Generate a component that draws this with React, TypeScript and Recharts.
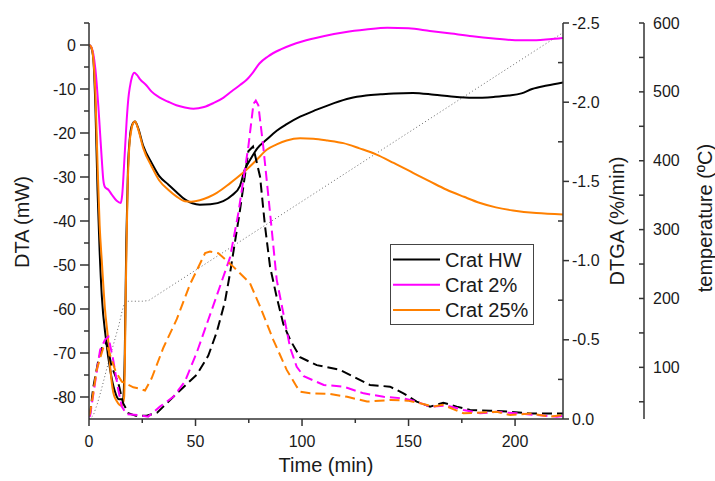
import React from 'react';
import { LineChart, Line, XAxis, YAxis, Legend } from 'recharts';

// ---- DTA (mW), solid lines ----
const hwDtaTime = [0,1,2,3,4,5,6,8,10,12,14,16,16.8,17.5,18.3,19.2,20.2,21.6,23,25.5,29.4,33,37.2,41,45,52,57,63,67,70.9,73,76,79,83.4,88.1,92.8,99.1,106.9,115,122.5,130,137,143,152,162,170,180,190,197,203,208,215,222.5];
const hwDtaValue = [0,-0.5,-3,-14,-33,-47,-57,-67,-74,-78.5,-80.5,-80.5,-70,-45,-28,-21,-18.2,-17.4,-18.8,-23,-26.8,-29.8,-31.7,-33.4,-35.1,-36.3,-36.2,-35.5,-34.2,-32,-28.5,-25.8,-23.5,-21.5,-19.5,-18,-16.3,-14.7,-13.2,-12.1,-11.5,-11.2,-11.0,-10.9,-11.3,-11.7,-12.0,-11.8,-11.5,-11,-10,-9.2,-8.5];

const c2DtaTime = [0,1,2,3,3.6,4.4,5.2,6,6.7,7.5,9.1,10.7,13,14.9,15.6,16.5,17.7,18.5,19.2,20.2,21.3,22.5,24,27,29.4,33,37.2,41,45,49,54,58.4,63,67,70.9,74,77,80,84,90,95,100,110,120,130,140,150,160,170,180,190,200,210,216,222.5];
const c2DtaValue = [0,-0.4,-2,-5.5,-8.7,-14,-20,-26,-30.6,-32.3,-32.9,-34,-35.4,-35.9,-34,-27,-17,-12,-9.5,-7.2,-6.3,-6.8,-7.8,-9.2,-10.6,-11.9,-12.9,-13.7,-14.2,-14.5,-14.1,-13.2,-12,-10.5,-9.1,-7.9,-6.2,-4.2,-2.6,-1,0,0.8,2,2.9,3.5,3.9,3.8,3.2,2.6,2.0,1.5,1.1,1.1,1.3,1.6];

const c25DtaTime = [0,1,2,3,4,5,6,7.5,9.1,10,11.4,13,15.4,16.5,17.3,18.1,18.8,19.8,20.7,21.6,23,25.5,29.4,33,37.2,41,45,48,52,56,60,66,72.4,78.7,83.4,88.1,92.8,99.1,105.3,112,119.4,127,135,143,152.3,160,167.9,176,183.6,191,199,210,222.5];
const c25DtaValue = [0,-0.4,-3,-11,-27,-41,-49,-60,-67.6,-73.5,-79,-80.9,-82,-80,-55,-33,-24,-19.5,-17.8,-17.4,-19,-23.5,-27.6,-30.8,-32.9,-34.4,-35.5,-35.6,-35.3,-34.6,-33.6,-31.5,-29,-26.1,-23.8,-22.6,-21.7,-21.2,-21.3,-21.7,-22.3,-23.5,-24.9,-26.8,-29.1,-31,-32.9,-34.5,-35.9,-36.9,-37.6,-38.2,-38.5];

// ---- DTGA (%/min), dashed lines ----
const hwDtgaTime = [0,0.5,2,4.4,6.5,8.2,10.7,13.8,16,18.5,22,27,32,34.9,39.6,42.7,47.4,50.6,56,60,63.8,66.2,70.9,74.8,77,80.3,82.6,85,88.1,91.2,94.4,99.1,106.9,117.8,125.7,131.9,141.3,147.6,153.8,160.1,166.3,172.6,178.9,188.3,197.7,207,219.6,222.5];
const hwDtgaValue = [-0.02,-0.03,-0.2,-0.37,-0.47,-0.48,-0.33,-0.225,-0.1,-0.036,-0.02,-0.02,-0.04,-0.078,-0.14,-0.18,-0.24,-0.28,-0.4,-0.55,-0.74,-0.92,-1.32,-1.69,-1.72,-1.53,-1.22,-0.96,-0.77,-0.6,-0.5,-0.39,-0.34,-0.31,-0.257,-0.215,-0.204,-0.162,-0.11,-0.078,-0.103,-0.078,-0.057,-0.052,-0.046,-0.035,-0.035,-0.035];

const c2DtgaTime = [0,0.5,2.8,5.2,7.5,9.1,11.4,13.8,15.4,17.7,23.1,27.8,33.3,36.5,39.6,45,50.6,55.3,60,66.2,70.1,74.8,77.2,78.3,79.5,81.8,85,88.1,92.8,94.4,97.5,100.8,110.2,119.5,128.9,138.3,147.6,153.8,160.1,168,175.8,183.6,191.4,200.8,210,219.6,222.5];
const c2DtgaValue = [-0.015,-0.02,-0.225,-0.436,-0.5,-0.52,-0.37,-0.18,-0.078,-0.03,-0.025,-0.015,-0.078,-0.11,-0.14,-0.236,-0.42,-0.6,-0.78,-1.02,-1.3,-1.72,-1.99,-2.01,-1.98,-1.72,-1.3,-0.88,-0.56,-0.45,-0.33,-0.27,-0.215,-0.204,-0.162,-0.14,-0.13,-0.11,-0.078,-0.085,-0.057,-0.036,-0.045,-0.036,-0.025,-0.015,-0.02];

const c25DtgaTime = [0,0.5,1.3,3.6,6.7,8.5,10.5,12.5,15.4,20.8,23.1,26.3,29.4,34.9,41.2,47.4,54.5,56.8,60.7,67.7,75.6,80.3,86.5,92.8,97.5,99.1,103.8,113.3,121.2,130.5,141.7,149.5,155.4,161.6,166,175.8,191.4,197.7,207,216.5,222.5];
const c25DtgaValue = [-0.02,-0.04,-0.1,-0.31,-0.45,-0.46,-0.38,-0.3,-0.236,-0.2,-0.194,-0.18,-0.257,-0.45,-0.63,-0.85,-1.047,-1.057,-1.047,-0.962,-0.857,-0.71,-0.5,-0.31,-0.204,-0.173,-0.162,-0.158,-0.14,-0.11,-0.12,-0.116,-0.1,-0.078,-0.09,-0.036,-0.045,-0.025,-0.035,-0.015,-0.025];

// ---- temperature (ºC), dotted line ----
const tempTime = [0,2,4,6,8,10,12,14,15.5,16.5,18,22,25,28,40,60,80,100,120,140,160,180,200,222.5];
const tempValue = [25,30,48,70,94,117,139,161,181,192,196,196,196,197,221,261,301,341,381,421,461,501,541,586];

// ---- names and ticks ----
const seriesNames = ['Crat HW', 'Crat 2%', 'Crat 25%'];
const seriesColors = ['#000000', '#ff00ff', '#ff8000'];
const timeTicks = [0,25,50,75,100,125,150,175,200];
const dtaTicks = [-80,-75,-70,-65,-60,-55,-50,-45,-40,-35,-30,-25,-20,-15,-10,-5,0,5];
const dtgaTicks = [-2.5,-2.25,-2,-1.75,-1.5,-1.25,-1,-0.75,-0.5,-0.25,0];
const tempTicks = [50,100,150,200,250,300,350,400,450,500,550,600];

const zip = (ts: number[], vs: number[]) => ts.map((t, i) => ({ t, v: vs[i] }));

const FONT = '"Liberation Sans", Arial, sans-serif';
const TXT = '#1a1a1a';
const AX = '#333333';

const LeftTick = (p: any) => {
  const { x, y, payload } = p;
  const v = payload.value;
  const major = Math.abs(v % 10) < 1e-6;
  return (
    <g>
      <line x1={x - (major ? 9 : 5)} x2={x} y1={y} y2={y} stroke={AX} strokeWidth={1.5} />
      {major && (
        <text x={x - 13} y={y} textAnchor="end" dominantBaseline="central" fontSize={16} fontFamily={FONT} fill={TXT}>{v}</text>
      )}
    </g>
  );
};

const BottomTick = (p: any) => {
  const { x, y, payload } = p;
  const v = payload.value;
  const major = Math.abs(v % 50) < 1e-6;
  return (
    <g>
      <line x1={x} x2={x} y1={y} y2={y + (major ? 7 : 4)} stroke={AX} strokeWidth={1.5} />
      {major && (
        <text x={x} y={y + 22} textAnchor="middle" dominantBaseline="central" fontSize={16} fontFamily={FONT} fill={TXT}>{v}</text>
      )}
    </g>
  );
};

const DtgaTick = (p: any) => {
  const { x, y, payload } = p;
  const v = payload.value;
  const major = Math.abs(v * 2 - Math.round(v * 2)) < 1e-6;
  return (
    <g>
      {major ? (
        <line x1={x} x2={x + 6} y1={y} y2={y} stroke={AX} strokeWidth={1.5} />
      ) : (
        <line x1={x - 5} x2={x} y1={y} y2={y} stroke={AX} strokeWidth={1.5} />
      )}
      {major && (
        <text x={x + 9} y={y} textAnchor="start" dominantBaseline="central" fontSize={16} fontFamily={FONT} fill={TXT}>{v.toFixed(1)}</text>
      )}
    </g>
  );
};

const TempTick = (p: any) => {
  const { x, y, payload } = p;
  const v = payload.value;
  const major = Math.abs(v % 100) < 1e-6;
  return (
    <g>
      <line x1={x - 5} x2={x} y1={y} y2={y} stroke={AX} strokeWidth={1.5} />
      {major && (
        <text x={x + 9} y={y} textAnchor="start" dominantBaseline="central" fontSize={16} fontFamily={FONT} fill={TXT}>{v}</text>
      )}
    </g>
  );
};

const AxisTitle = (p: any) => {
  const { tx, ty, rot, text } = p;
  return (
    <text
      x={tx}
      y={ty}
      transform={rot ? `rotate(${rot}, ${tx}, ${ty})` : undefined}
      textAnchor="middle"
      dominantBaseline="central"
      fontSize={20}
      fontFamily={FONT}
      fill={TXT}
    >
      {text}
    </text>
  );
};

const LegendBox = () => (
  <svg width={145} height={82} style={{ display: 'block' }}>
    <rect x={0.5} y={0.5} width={143} height={80} fill="#ffffff" stroke="#444" strokeWidth={1} />
    {seriesNames.map((n, i) => (
      <g key={n}>
        <line x1={3} x2={50} y1={15.5 + i * 25.3} y2={15.5 + i * 25.3} stroke={seriesColors[i]} strokeWidth={2} />
        <text x={55} y={15.5 + i * 25.3} dominantBaseline="central" fontSize={20} fontFamily={FONT} fill={TXT}>{n}</text>
      </g>
    ))}
  </svg>
);

const dtaSets = [zip(hwDtaTime, hwDtaValue), zip(c2DtaTime, c2DtaValue), zip(c25DtaTime, c25DtaValue)];
const dtgaSets = [zip(hwDtgaTime, hwDtgaValue), zip(c2DtgaTime, c2DtgaValue), zip(c25DtgaTime, c25DtgaValue)];
const tempSet = zip(tempTime, tempValue);

export default function App() {
  return (
    <div style={{ position: 'absolute', left: 0, top: 0, width: 715, height: 481, background: '#fff' }}>
      <LineChart width={715} height={481} margin={{ top: 23, right: 0, bottom: 0, left: 0 }}>
        <XAxis
          dataKey="t"
          type="number"
          domain={[0, 222.5]}
          ticks={timeTicks}
          interval={0}
          allowDataOverflow
          height={62}
          stroke={AX}
          strokeWidth={1.5}
          tickLine={false}
          tickSize={0}
          tickMargin={0}
          tick={<BottomTick />}
          label={<AxisTitle tx={326} ty={465} text="Time (min)" />}
        />
        <YAxis
          yAxisId="dta"
          type="number"
          domain={[-85, 5]}
          ticks={dtaTicks}
          interval={0}
          allowDataOverflow
          width={89}
          stroke={AX}
          strokeWidth={1.5}
          tickLine={false}
          tickSize={0}
          tickMargin={0}
          tick={<LeftTick />}
          label={<AxisTitle tx={22} ty={222} rot={-90} text="DTA (mW)" />}
        />
        <YAxis
          yAxisId="dtga"
          orientation="right"
          type="number"
          domain={[-2.5, 0]}
          reversed
          ticks={dtgaTicks}
          interval={0}
          allowDataOverflow
          width={81}
          stroke={AX}
          strokeWidth={1.5}
          tickLine={false}
          tickSize={0}
          tickMargin={0}
          tick={<DtgaTick />}
          label={<AxisTitle tx={617} ty={221} rot={-90} text="DTGA (%/min)" />}
        />
        <YAxis
          yAxisId="temp"
          orientation="right"
          type="number"
          domain={[25, 600]}
          ticks={tempTicks}
          interval={0}
          allowDataOverflow
          width={71}
          stroke={AX}
          strokeWidth={1.5}
          tickLine={false}
          tickSize={0}
          tickMargin={0}
          tick={<TempTick />}
          label={<AxisTitle tx={705} ty={218} rot={-90} text="temperature (ºC)" />}
        />
        <Legend
          layout="vertical"
          align="center"
          verticalAlign="middle"
          wrapperStyle={{ position: 'absolute', left: 390, top: 244, width: 145, height: 82 }}
          content={() => <LegendBox />}
        />
        <Line
          yAxisId="temp"
          data={tempSet}
          dataKey="v"
          name="temperature"
          type="linear"
          stroke="#666"
          strokeWidth={1}
          strokeDasharray="1 2.5"
          dot={false}
          activeDot={false}
          isAnimationActive={false}
          legendType="none"
        />
        {dtaSets.map((d, i) => (
          <Line
            key={'dta' + i}
            yAxisId="dta"
            data={d}
            dataKey="v"
            name={seriesNames[i]}
            type="monotone"
            stroke={seriesColors[i]}
            strokeWidth={2}
            dot={false}
            activeDot={false}
            isAnimationActive={false}
          />
        ))}
        {dtgaSets.map((d, i) => (
          <Line
            key={'dtga' + i}
            yAxisId="dtga"
            data={d}
            dataKey="v"
            name={seriesNames[i] + ' DTGA'}
            type="linear"
            stroke={seriesColors[i]}
            strokeWidth={2}
            strokeDasharray="10 5"
            dot={false}
            activeDot={false}
            isAnimationActive={false}
            legendType="none"
          />
        ))}
      </LineChart>
    </div>
  );
}
